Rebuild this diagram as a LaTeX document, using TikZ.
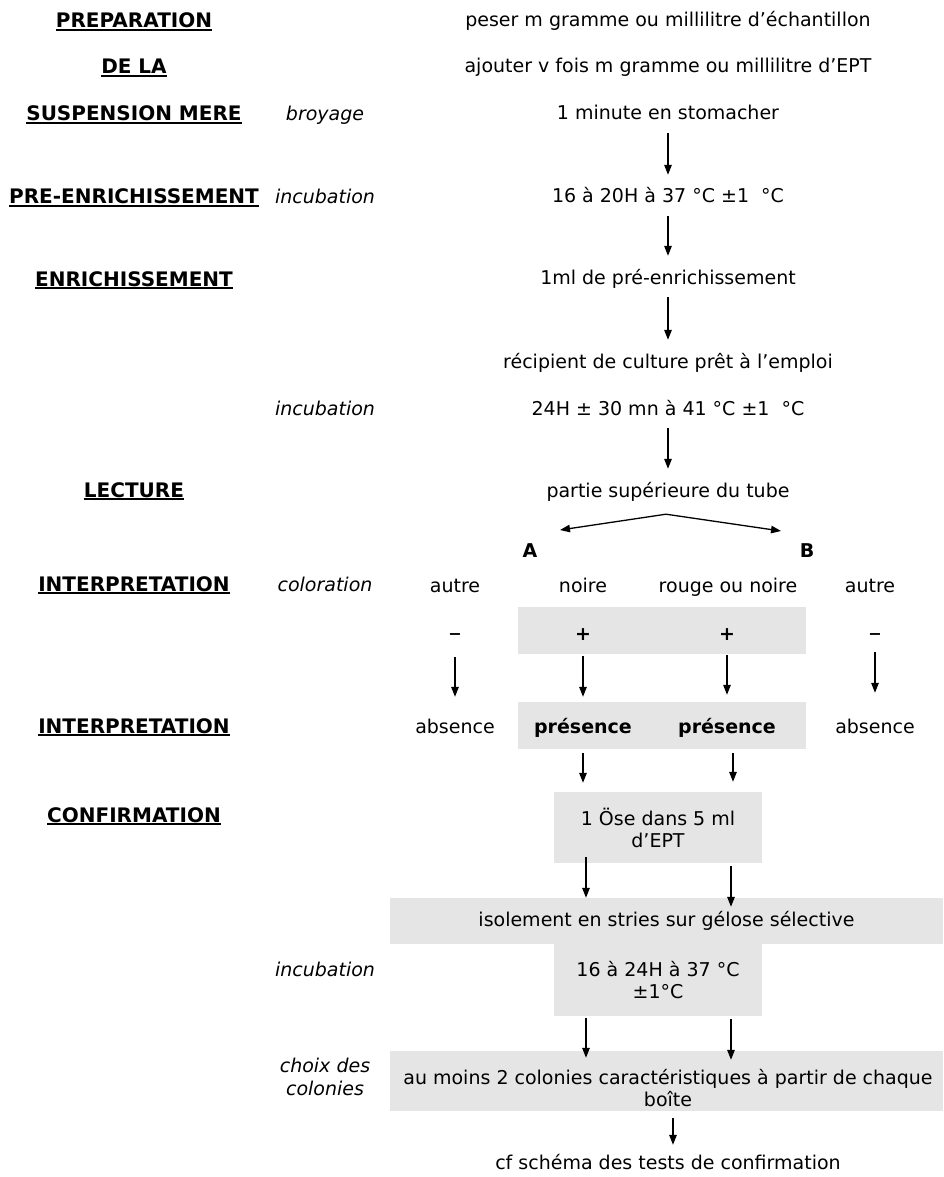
\documentclass[tikz,border=0pt]{standalone}
\usepackage{fontspec}
\setmainfont{DejaVu Sans}
\usetikzlibrary{arrows.meta}
\newcommand\ulbf[1]{\setbox0=\hbox{\bfseries #1}\leavevmode\rlap{\copy0}\rule[-3.2pt]{\wd0}{1.8pt}}
\begin{document}
\begin{tikzpicture}[x=1pt,y=1pt,
  base/.style={font=\fontsize{19}{22}\selectfont, inner sep=0pt},
  txt/.style={base, anchor=base, text height=14pt, text depth=4pt},
  lab/.style={txt, font=\fontsize{20}{22}\selectfont},
  itl/.style={txt, font=\fontsize{19}{22}\selectfont\itshape},
  bld/.style={txt, font=\fontsize{19}{22}\selectfont\bfseries},
  sgn/.style={txt, font=\fontsize{16}{22}\selectfont\bfseries},
  gbox/.style={fill=gray!20, draw=none, inner sep=0pt, font=\fontsize{19}{22}\selectfont, align=center},
  arr/.style={-{Triangle[length=10pt,width=7.5pt]}, line width=1.3pt},
  main/.style={arr, shorten <=9pt, shorten >=14pt}]
\useasboundingbox (0,0) rectangle (943,-1177);

% left column labels
\node[lab] (prep)    at (134,-28)  {\ulbf{PREPARATION}};
\node[lab] (dela)    at (134,-74)  {\ulbf{DE LA}};
\node[lab] (susp)    at (134,-121) {\ulbf{SUSPENSION MERE}};
\node[lab] (preenr)  at (134,-204) {\ulbf{PRE-ENRICHISSEMENT}};
\node[lab] (enr)     at (134,-286) {\ulbf{ENRICHISSEMENT}};
\node[lab] (lect)    at (134,-497) {\ulbf{LECTURE}};
\node[lab] (interpa) at (134,-591) {\ulbf{INTERPRETATION}};
\node[lab] (interpb) at (134,-733) {\ulbf{INTERPRETATION}};
\node[lab] (conf)    at (134,-822) {\ulbf{CONFIRMATION}};

% italic column
\node[itl] (broy)  at (325,-121) {broyage};
\node[itl] (inca)  at (325,-204) {incubation};
\node[itl] (incb)  at (325,-415) {incubation};
\node[itl] (color) at (325,-591) {coloration};
\node[itl] (incc)  at (325,-976) {incubation};
\node[base, font=\fontsize{19}{23}\selectfont\itshape, align=center] (choix) at (325,-1077) {choix des\\colonies};

% main column
\node[txt] (peser)  at (668,-27)  {peser m gramme ou millilitre d’échantillon};
\node[txt] (ajout)  at (668,-73)  {ajouter v fois m gramme ou millilitre d’EPT};
\node[txt] (minute) at (668,-120) {1 minute en stomacher};
\node[txt] (tps1)   at (668,-203) {16 à 20H à 37 °C ±1\ \ °C};
\node[txt] (ml)     at (668,-284) {1ml de pré-enrichissement};
\node[txt] (recip)  at (668,-368) {récipient de culture prêt à l’emploi};
\node[txt] (tps2)   at (668,-415) {24H ± 30 mn à 41 °C ±1\ \ °C};
\node[txt] (partie) at (668,-497) {partie supérieure du tube};

\draw[main] (minute.south) -- (tps1.north);
\draw[main] (tps1.south) -- (ml.north);
\draw[main] (ml.south) -- (recip.north);
\draw[main] (tps2.south) -- (partie.north);

\coordinate (apex) at ([yshift=-13pt,xshift=-2pt]partie.south);
\coordinate (tipA) at (560,-530);
\coordinate (tipB) at (781,-531);
\draw[line width=1.3pt, {Triangle[length=10pt,width=7.5pt]}-{Triangle[length=10pt,width=7.5pt]}] (tipA) -- (apex) -- (tipB);

\node[bld] (A) at (530,-557) {A};
\node[bld] (B) at (807,-557) {B};

\node[txt] (autrea) at (455,-592) {autre};
\node[txt] (noire)  at (583,-592) {noire};
\node[txt] (rouge)  at (728,-592) {rouge ou noire};
\node[txt] (autreb) at (870,-592) {autre};

\node[gbox, minimum width=288pt, minimum height=47pt] (plusbox) at (662,-630.5) {};
\node[gbox, minimum width=288pt, minimum height=47pt] (presbox) at (662,-725.5) {};

\node[sgn] (ma) at (455,-639) {−};
\node[bld] (pa) at (583,-640) {+};
\node[bld] (pb) at (727,-640) {+};
\node[sgn] (mb) at (875,-639) {−};

\node[txt] (absa)  at (455,-733) {absence};
\node[bld] (presa) at (583,-733) {présence};
\node[bld] (presb) at (727,-733) {présence};
\node[txt] (absb)  at (875,-733) {absence};

\draw[arr, shorten <=3pt, shorten >=5pt] (ma |- plusbox.south) -- (absa |- presbox.north);
\draw[arr, shorten <=2pt, shorten >=5pt] (pa |- plusbox.south) -- (presa |- presbox.north);
\draw[arr, shorten <=1pt, shorten >=7pt] (pb |- plusbox.south) -- (presb |- presbox.north);
\draw[arr, shorten <=-2pt, shorten >=9pt] (mb |- plusbox.south) -- (absb |- presbox.north);

% confirmation
\node[gbox, minimum width=208pt, minimum height=71pt] (oese) at (658,-827.5) {1 Öse dans 5 ml\\d’EPT};
\draw[arr, shorten <=4pt, shorten >=9pt] (presa |- presbox.south) -- (presa |- oese.north);
\draw[arr, shorten <=4pt, shorten >=10pt] ([xshift=6pt]presb.south |- presbox.south) -- ([xshift=6pt]presb.south |- oese.north);

\node[gbox, minimum width=553pt, minimum height=46pt] (iso) at (666.5,-921) {isolement en stries sur gélose sélective};
\draw[arr] ([xshift=-72pt,yshift=6pt]oese.south) -- ([xshift=-80.5pt]iso.north);
\draw[arr] ([xshift=73pt,yshift=-3pt]oese.south) -- ([xshift=64.5pt,yshift=-9pt]iso.north);

\node[gbox, minimum width=208pt, minimum height=72pt] (tps3) at (658,-980) {16 à 24H à 37 °C\\±1°C};

\node[gbox, minimum width=553pt, minimum height=60pt] (colbox) at (666.5,-1081) {};
\node[base, align=center] (coltxt) at (668,-1088) {au moins 2 colonies caractéristiques à partir de chaque\\boîte};
\draw[arr] ([xshift=-72pt,yshift=-2pt]tps3.south) -- ([xshift=-80.5pt,yshift=-7pt]colbox.north);
\draw[arr] ([xshift=73pt,yshift=-3pt]tps3.south) -- ([xshift=64.5pt,yshift=-9pt]colbox.north);

\node[txt] (cf) at (668,-1169) {cf schéma des tests de confirmation};
\draw[arr, shorten <=7pt, shorten >=10pt] ([xshift=6.5pt]colbox.south) -- ([xshift=5pt]cf.north);
\end{tikzpicture}
\end{document}
